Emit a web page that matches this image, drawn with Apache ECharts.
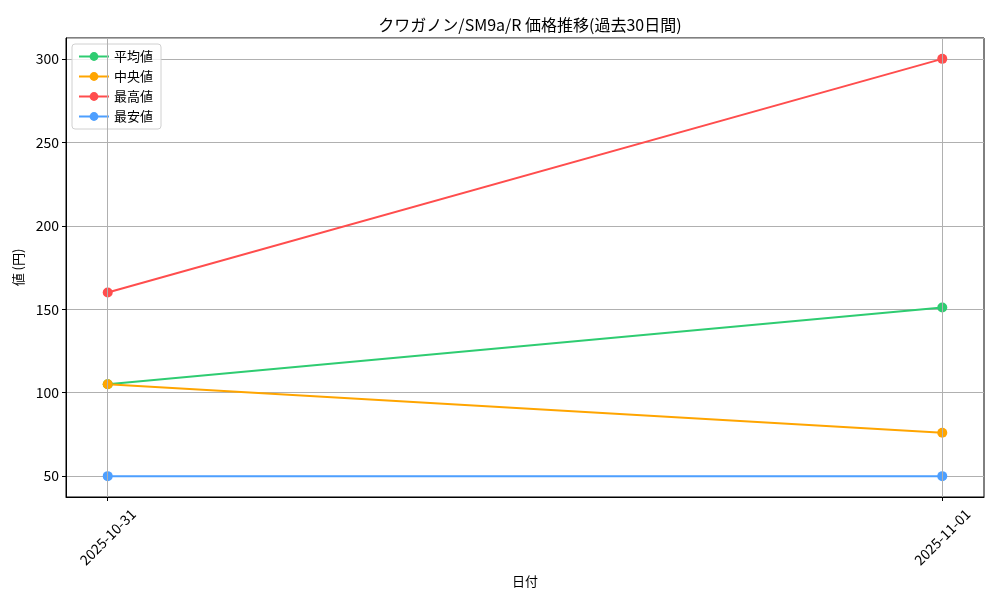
<!DOCTYPE html>
<html><head><meta charset="utf-8">
<script src="https://cdn.jsdelivr.net/npm/echarts@6/dist/echarts.min.js"></script>
<style>html,body{margin:0;padding:0;background:#fff}#c{width:1000px;height:600px}</style>
</head><body><div id="c"></div>
<script>
const dates = ['2025-10-31', '2025-11-01'];
const avgValues = [105, 151];
const medianValues = [105, 76];
const maxValues = [160, 300];
const minValues = [50, 50];
const seriesNames = ['平均値', '中央値', '最高値', '最安値'];
const colors = ['#2ecc71', '#ffa500', '#ff4d4d', '#4d9fff'];
const FONT = '"Noto Sans CJK JP", "DejaVu Sans", sans-serif';

const allSeries = [avgValues, medianValues, maxValues, minValues];
const chart = echarts.init(document.getElementById('c'), null, {renderer: 'canvas'});
const xIdx = dates.map((d, i) => i);

const series = allSeries.map((vals, k) => ({
  name: seriesNames[k],
  type: 'line',
  data: vals.map((v, i) => [i, v]),
  symbol: 'circle',
  symbolSize: 10,
  lineStyle: {width: 2, color: colors[k]},
  itemStyle: {color: colors[k]},
  z: 3,
  animation: false
}));
series.push({
  type: 'line', data: [], silent: true, z: 1,
  markLine: {
    silent: true, symbol: ['none', 'none'], label: {show: false},
    lineStyle: {color: '#b0b0b0', width: 1, type: 'solid'},
    animation: false,
    data: xIdx.map(i => ({xAxis: i}))
  }
});

chart.setOption({
  animation: false,
  title: {
    text: 'クワガノン/SM9a/R 価格推移(過去30日間)',
    left: 525, top: 12, textAlign: 'center',
    textStyle: {fontFamily: FONT, fontSize: 16, fontWeight: 'normal', color: '#000'}
  },
  legend: {
    left: 72, top: 44, orient: 'vertical',
    data: seriesNames,
    itemWidth: 30, itemHeight: 11, itemGap: 7,
    padding: [6, 8, 6, 6],
    borderColor: '#d0d0d0', borderWidth: 1, borderRadius: 3,
    backgroundColor: 'rgba(255,255,255,0.8)',
    textStyle: {fontFamily: FONT, fontSize: 13, color: '#000'}
  },
  grid: {left: 66, right: 16, top: 38, bottom: 103, show: true, borderColor: '#000', borderWidth: 1, containLabel: false},
  xAxis: {
    type: 'value', min: -0.05, max: 1.05,
    name: '日付', nameLocation: 'middle', nameGap: 72,
    nameTextStyle: {fontFamily: FONT, fontSize: 13, color: '#000'},
    axisLine: {show: true, onZero: false, lineStyle: {color: '#000'}},
    axisTick: {show: true, customValues: xIdx, length: 4, lineStyle: {color: '#000'}},
    axisLabel: {customValues: xIdx, rotate: 45, align: 'center', verticalAlign: 'middle',
      fontFamily: FONT, fontSize: 14, color: '#000',
      margin: 40, formatter: v => dates[Math.round(v)]},
    splitLine: {show: false}
  },
  yAxis: {
    type: 'value', min: 37.5, max: 312.5, splitNumber: 5,
    name: '値 (円)', nameLocation: 'middle', nameGap: 40, nameRotate: 90,
    nameTextStyle: {fontFamily: FONT, fontSize: 13, color: '#000'},
    axisLine: {show: true, onZero: false, lineStyle: {color: '#000'}},
    axisTick: {show: true, length: 4, lineStyle: {color: '#000'}},
    axisLabel: {showMinLabel: false, showMaxLabel: false, fontFamily: FONT, fontSize: 14, color: '#000', margin: 7},
    splitLine: {show: true, lineStyle: {color: '#b0b0b0', width: 1}}
  },
  series: series
});
</script></body></html>
